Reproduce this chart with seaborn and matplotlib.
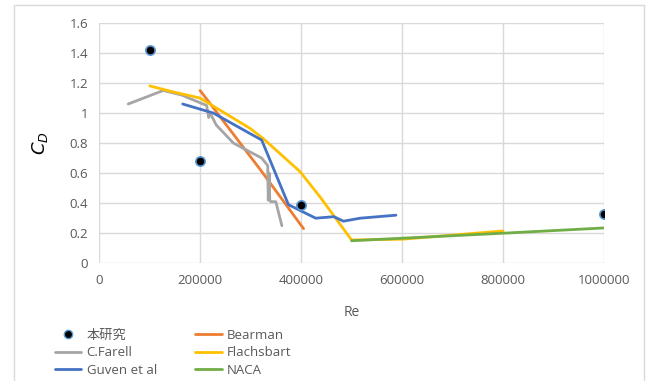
import numpy as np
import pandas as pd
import seaborn as sns
import matplotlib.pyplot as plt
from matplotlib.patches import Rectangle
from matplotlib.lines import Line2D

# measured points (this study)
study_re = [100000, 200000, 400000, 1000000]
study_cd = [1.42, 0.68, 0.39, 0.33]

bearman_re = [200000, 320000, 405000]
bearman_cd = [1.15, 0.62, 0.23]

farell_re = [57600, 127000, 163000, 213000, 217000, 220000, 232000, 266000, 322000,
             334000, 335000, 337000, 338000, 340000, 350000, 362000]
farell_cd = [1.06, 1.15, 1.12, 1.05, 0.97, 1.0, 0.92, 0.80, 0.70,
             0.65, 0.42, 0.60, 0.42, 0.41, 0.41, 0.25]

flachsbart_re = [100600, 147000, 199500, 298000, 325000, 398000, 438000, 500000, 600000, 800000]
flachsbart_cd = [1.18, 1.14, 1.10, 0.90, 0.83, 0.61, 0.44, 0.155, 0.16, 0.215]

guven_re = [165500, 226000, 322000, 375000, 429000, 465000, 484000, 517000, 588000]
guven_cd = [1.06, 1.0, 0.82, 0.39, 0.30, 0.31, 0.28, 0.30, 0.32]

naca_re = [500000, 800000, 1000000]
naca_cd = [0.15, 0.20, 0.235]

series = {
    "Bearman": (bearman_re, bearman_cd),
    "C.Farell": (farell_re, farell_cd),
    "Flachsbart": (flachsbart_re, flachsbart_cd),
    "Guven et al": (guven_re, guven_cd),
    "NACA": (naca_re, naca_cd),
}
colors = {"Bearman": "#ED7D31", "C.Farell": "#A5A5A5", "Flachsbart": "#FFC000",
          "Guven et al": "#4472C4", "NACA": "#70AD47"}

rows = []
for name, (xs, ys) in series.items():
    for i, (x, y) in enumerate(zip(xs, ys)):
        rows.append({"Re": x, "CD": y, "src": name, "order": i})
lines = pd.DataFrame(rows)
pts = pd.DataFrame({"Re": study_re, "CD": study_cd})

sns.set_style("white")
plt.rcParams['font.family'] = ['Open Sans', 'Noto Sans CJK JP', 'DejaVu Sans']

fig = plt.figure(figsize=(6.48, 3.81), dpi=100)
ax = fig.add_axes([0.153, 0.309, 0.779, 0.631])

sns.lineplot(data=lines, x="Re", y="CD", hue="src", palette=colors, sort=False,
             estimator=None, units="src", linewidth=2, ax=ax, legend=False)
sns.scatterplot(data=pts, x="Re", y="CD", color="black", edgecolor="#5B9BD5",
                linewidth=1.2, s=45, ax=ax, zorder=5, legend=False)

ax.set_xlim(0, 1000000)
ax.set_ylim(0, 1.6)
ax.set_xticks(np.arange(0, 1000001, 200000))
ax.set_yticks(np.arange(0, 1.61, 0.2))
ax.set_xticklabels([f"{int(v)}" for v in np.arange(0, 1000001, 200000)])
ax.set_yticklabels([f"{v:g}" for v in np.round(np.arange(0, 1.61, 0.2), 1)])
ax.grid(True, color="#d9d9d9", linewidth=1)
for s in ax.spines.values():
    s.set_visible(False)
ax.tick_params(axis="both", length=0, colors="#595959", labelsize=9.5, pad=8)
ax.set_xlabel("Re", color="#595959", fontsize=10, labelpad=13)
ax.set_ylabel(r"$C_D$", fontsize=13, color="black", labelpad=14)

handles = [
    Line2D([], [], marker="o", linestyle="none", markerfacecolor="black",
           markeredgecolor="#5B9BD5", markersize=6),
    Line2D([], [], color=colors["C.Farell"], lw=2),
    Line2D([], [], color=colors["Guven et al"], lw=2),
    Line2D([], [], color=colors["Bearman"], lw=2),
    Line2D([], [], color=colors["Flachsbart"], lw=2),
    Line2D([], [], color=colors["NACA"], lw=2),
]
labels = ["本研究", "C.Farell", "Guven et al", "Bearman", "Flachsbart", "NACA"]
leg = fig.legend(handles, labels, ncol=2, loc="upper left", bbox_to_anchor=(0.085, 0.137),
                 frameon=False, fontsize=9.5, handlelength=2.0, handletextpad=0.4,
                 columnspacing=2.9, labelspacing=0.35, borderaxespad=0, borderpad=0)
for t in leg.get_texts():
    t.set_color("#595959")

fig.patches.append(Rectangle((14 / 648, -0.01), 630 / 648, 1 - 5 / 381 + 0.01,
                             transform=fig.transFigure, fill=False,
                             edgecolor="#d9d9d9", linewidth=1))

fig.savefig("out.png", dpi=100)
